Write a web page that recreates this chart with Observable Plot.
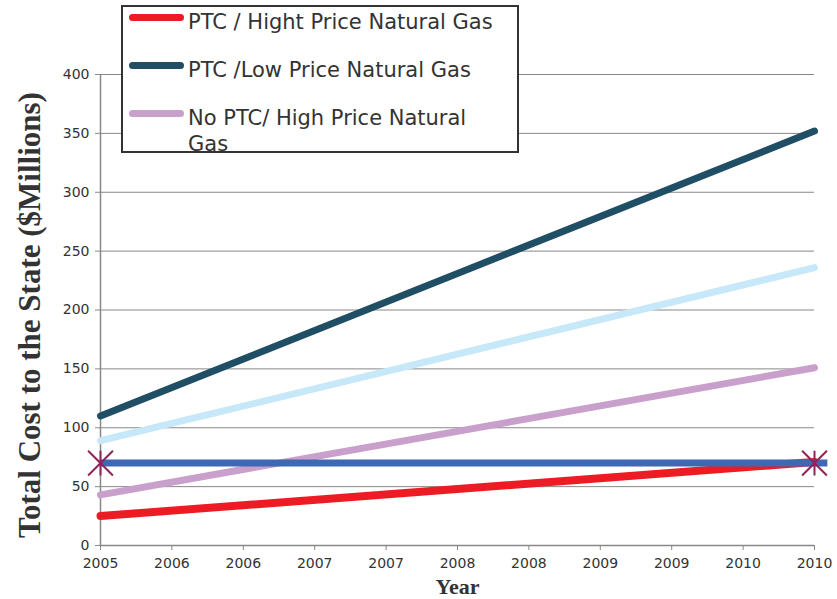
<!DOCTYPE html>
<html>
<head>
<meta charset="utf-8">
<script src="https://cdn.jsdelivr.net/npm/d3@7"></script>
<script src="https://cdn.jsdelivr.net/npm/@observablehq/plot@0.6"></script>
<style>
  body { margin: 0; background: #fff; }
  #wrap { position: relative; width: 837px; height: 599px; }
  #legend {
    position: absolute; left: 121px; top: 5px; width: 394px; height: 144px;
    border: 2px solid #333; background: #fff;
    font-family: "DejaVu Sans", Verdana, sans-serif; font-size: 21px; color: #333;
  }
  .item { position: absolute; left: 6px; display: flex; align-items: flex-start; }
  .sw { width: 55px; height: 7px; border-radius: 4px; margin-top: 5px; margin-right: 4px; flex: none; }
  .lbl { line-height: 26px; width: 330px; }
</style>
</head>
<body>
<div id="wrap"><div id="chart"></div><div id="legend"></div></div>
<script>
// Data
const years = [2005, 2010];
const seriesNames = [
  "PTC / Hight Price Natural Gas",
  "PTC /Low Price Natural Gas",
  "No PTC/ High Price Natural Gas",
  "Unlabeled (light blue)",
  "Unlabeled (blue)"
];
const redValues = [25, 71];
const navyValues = [110, 352];
const lilacValues = [43, 151];
const lightBlueValues = [89, 236];
const blueYears = [2005, 2010.09];
const blueValues = [70, 70];
const starYears = [2005, 2010];
const starValues = [70, 70];
const xTickValues = [2005, 2005.5, 2006, 2006.5, 2007, 2007.5, 2008, 2008.5, 2009, 2009.5, 2010];
const xTickLabels = ["2005","2006","2006","2007","2007","2008","2008","2009","2009","2010","2010"];
const yTickValues = [0, 50, 100, 150, 200, 250, 300, 350, 400];

const colors = {
  red: "#ed1c24", navy: "#1f4e65", lilac: "#c8a0cb", lightBlue: "#c6e8f8", blue: "#3f68b3", star: "#8e2459"
};

const toRows = (xs, ys) => xs.map((x, i) => ({x, y: ys[i]}));

// Star marker: X plus vertical bar
const starSymbol = {
  draw(context, size) {
    const r = Math.sqrt(size) / 2;
    context.moveTo(0, -r); context.lineTo(0, r);
    context.moveTo(-r, -r); context.lineTo(r, r);
    context.moveTo(-r, r); context.lineTo(r, -r);
  }
};

const lineOpts = (color, w) => ({x: "x", y: "y", stroke: color, strokeWidth: w, strokeLinecap: "round"});
const serif = "'Liberation Serif', 'Times New Roman', serif";

const plot = Plot.plot({
  width: 837,
  height: 599,
  marginLeft: 100,
  marginRight: 23,
  marginTop: 74,
  marginBottom: 54,
  style: {fontFamily: "'DejaVu Sans', Verdana, sans-serif", fontSize: "14px", color: "#333", background: "#fff"},
  x: {domain: [2005, 2010]},
  y: {domain: [0, 400]},
  marks: [
    Plot.gridY(yTickValues.filter(d => d > 0), {stroke: "#888", strokeOpacity: 1, strokeWidth: 1}),
    Plot.axisY(yTickValues, {tickSize: 5, tickPadding: 6, stroke: "#888", fill: "#333", label: null, fontSize: 14}),
    Plot.axisX(xTickValues, {tickSize: 5, tickPadding: 8, stroke: "#888", fill: "#333", label: null, fontSize: 14,
      tickFormat: (d, i) => xTickLabels[i]}),
    Plot.ruleX([2005], {stroke: "#888", strokeWidth: 1.5}),
    Plot.ruleY([0], {stroke: "#888", strokeWidth: 1.5}),
    Plot.line(toRows(years, redValues), lineOpts(colors.red, 8)),
    Plot.line(toRows(years, lightBlueValues), lineOpts(colors.lightBlue, 7)),
    Plot.line(toRows(years, lilacValues), lineOpts(colors.lilac, 7)),
    Plot.line(toRows(years, navyValues), lineOpts(colors.navy, 7)),
    Plot.line(toRows(blueYears, blueValues), {x: "x", y: "y", stroke: colors.blue, strokeWidth: 7, strokeLinecap: "butt"}),
    Plot.dot(toRows(starYears, starValues), {x: "x", y: "y", symbol: starSymbol, r: 14, stroke: colors.star, strokeWidth: 2, fill: "none"}),
    Plot.text(["Total Cost to the State ($Millions)"], {frameAnchor: "left", rotate: -90, dx: -70, dy: 5,
      textAnchor: "middle", fontFamily: serif, fontWeight: "bold", fontSize: 31, fill: "#333", lineAnchor: "middle"}),
    Plot.text(["Year"], {frameAnchor: "bottom", dy: 41, textAnchor: "middle", fontFamily: serif,
      fontWeight: "bold", fontSize: 22, fill: "#333", lineAnchor: "middle"})
  ]
});
document.getElementById("chart").appendChild(plot);

// Legend (overlay box in upper left of plot)
const legendItems = [
  {name: seriesNames[0], color: colors.red, top: 2},
  {name: seriesNames[1], color: colors.navy, top: 50},
  {name: seriesNames[2], color: colors.lilac, top: 98}
];
const legend = document.getElementById("legend");
for (const it of legendItems) {
  const div = document.createElement("div");
  div.className = "item";
  div.style.top = it.top + "px";
  const sw = document.createElement("div");
  sw.className = "sw"; sw.style.background = it.color;
  const lbl = document.createElement("div");
  lbl.className = "lbl"; lbl.textContent = it.name;
  if (it.name.startsWith("No PTC")) lbl.style.width = "300px";
  div.appendChild(sw); div.appendChild(lbl);
  legend.appendChild(div);
}
</script>
</body>
</html>
